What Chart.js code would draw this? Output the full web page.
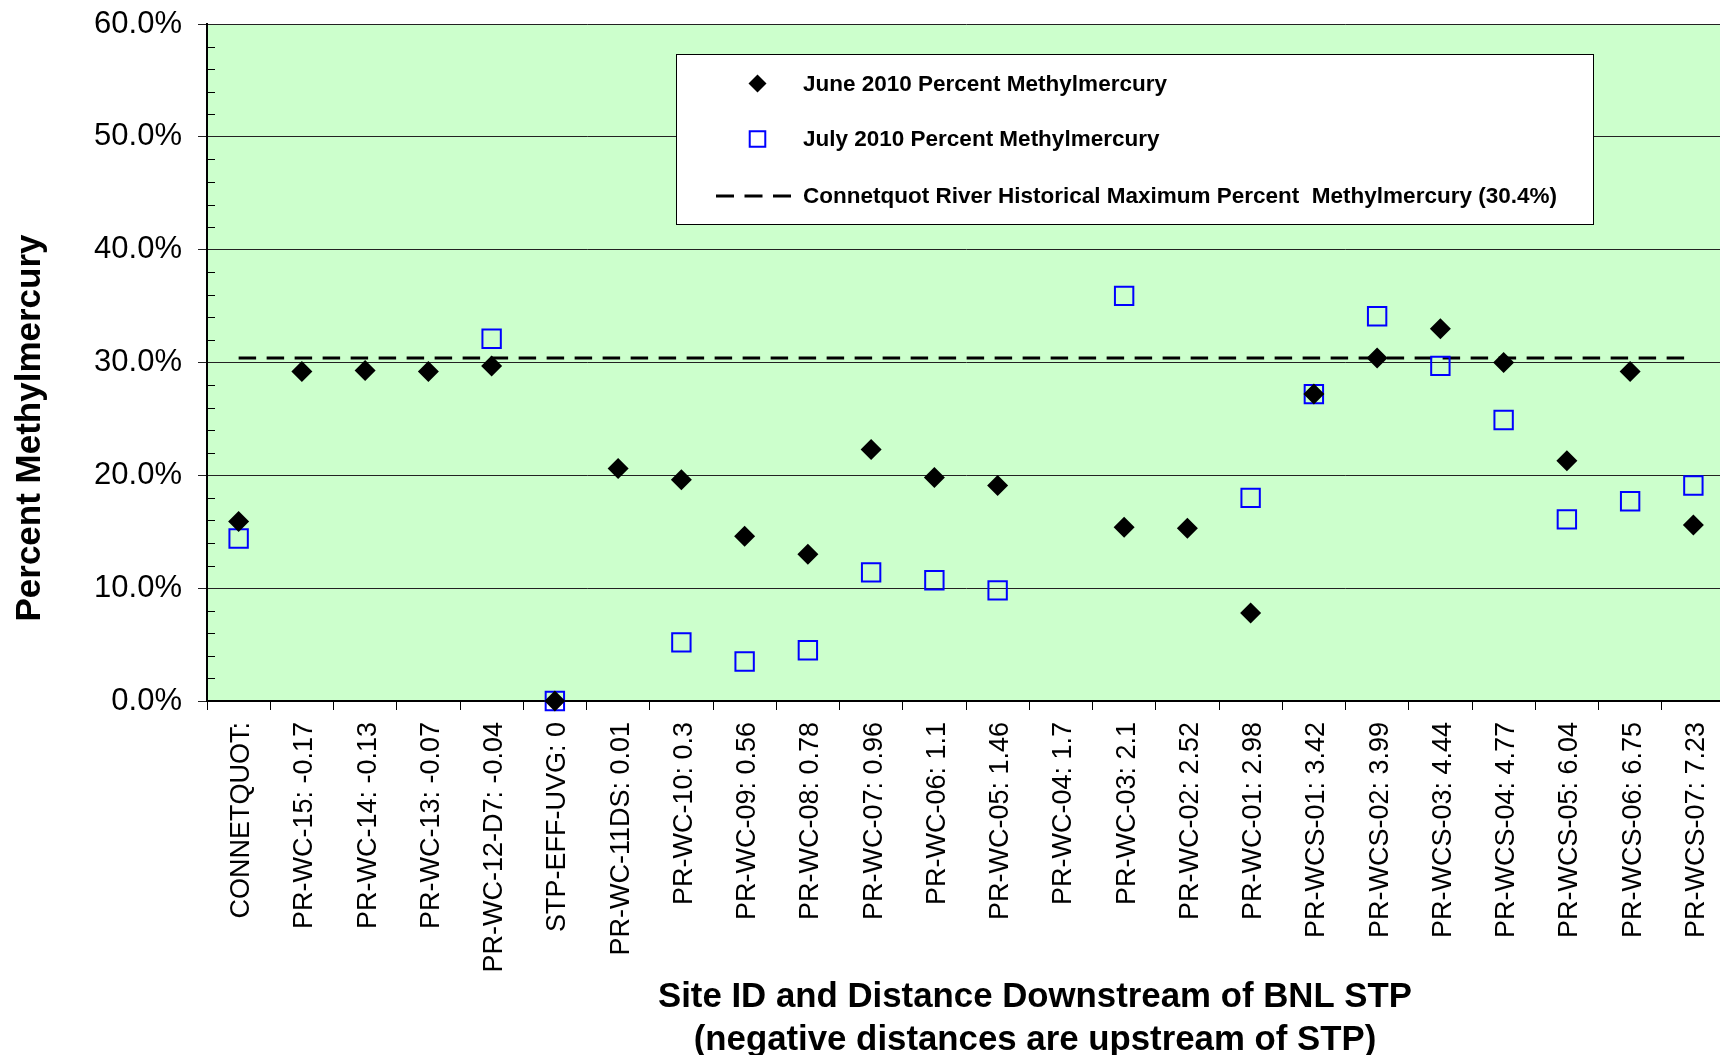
<!DOCTYPE html>
<html>
<head>
<meta charset="utf-8">
<script src="https://cdn.jsdelivr.net/npm/chart.js@4.4.1/dist/chart.umd.min.js"></script>
<style>
  html, body { margin: 0; padding: 0; background: #ffffff; overflow: hidden; width: 1720px; height: 1055px; }
  #wrap { position: relative; width: 1740px; height: 1055px; }
  canvas { display: block; }
</style>
</head>
<body>
<div id="wrap"><canvas id="c" width="1740" height="1055"></canvas></div>
<script>
// ---------------- DATA ----------------
const categories = [
  'CONNETQUOT:', 'PR-WC-15: -0.17', 'PR-WC-14: -0.13', 'PR-WC-13: -0.07',
  'PR-WC-12-D7: -0.04', 'STP-EFF-UVG: 0', 'PR-WC-11DS: 0.01', 'PR-WC-10: 0.3',
  'PR-WC-09: 0.56', 'PR-WC-08: 0.78', 'PR-WC-07: 0.96', 'PR-WC-06: 1.1',
  'PR-WC-05: 1.46', 'PR-WC-04: 1.7', 'PR-WC-03: 2.1', 'PR-WC-02: 2.52',
  'PR-WC-01: 2.98', 'PR-WCS-01: 3.42', 'PR-WCS-02: 3.99', 'PR-WCS-03: 4.44',
  'PR-WCS-04: 4.77', 'PR-WCS-05: 6.04', 'PR-WCS-06: 6.75', 'PR-WCS-07: 7.23'
];
const june2010 = [
  15.9, 29.2, 29.3, 29.2, 29.7, 0.0, 20.6, 19.6,
  14.6, 13.0, 22.3, 19.8, 19.1, null, 15.4, 15.3,
  7.8, 27.2, 30.4, 33.0, 30.0, 21.3, 29.2, 15.6
];
const july2010 = [
  14.4, null, null, null, 32.1, 0.0, null, 5.2,
  3.5, 4.5, 11.4, 10.7, 9.8, null, 35.9, null,
  18.0, 27.2, 34.1, 29.7, 24.9, 16.1, 17.7, 19.1
];
const historicalMax = 30.4;
const historicalLine = categories.map(() => historicalMax);
const seriesLabels = [
  'June 2010 Percent Methylmercury',
  'July 2010 Percent Methylmercury',
  'Connetquot River Historical Maximum Percent  Methylmercury (30.4%)'
];
const yAxisTitle = 'Percent Methylmercury';
const xAxisTitle = ['Site ID and Distance Downstream of BNL STP', '(negative distances are upstream of STP)'];
const yMin = 0, yMax = 60, yMajorStep = 10, yMinorStep = 2;

// ---------------- STYLE ----------------
const FONT = "'Liberation Sans', Arial, Helvetica, sans-serif";

const backgroundPlugin = {
  id: 'plotBackground',
  beforeDraw(chart) {
    const { ctx, chartArea: a } = chart;
    ctx.save();
    ctx.fillStyle = '#CCFFCC';
    ctx.fillRect(a.left, a.top, a.right - a.left, a.bottom - a.top);
    ctx.restore();
  }
};

function drawMarker(ctx, style, x, y, r, fill, stroke, bw) {
  if (window.Chart && Chart.helpers && Chart.helpers.drawPoint) {
    ctx.save();
    ctx.fillStyle = fill;
    ctx.strokeStyle = stroke;
    ctx.lineWidth = bw;
    Chart.helpers.drawPoint(ctx, { pointStyle: style, rotation: 0, radius: r, borderWidth: bw }, x, y);
    ctx.restore();
    return;
  }
  ctx.save();
  ctx.beginPath();
  if (style === 'rectRot') {
    ctx.moveTo(x - r, y); ctx.lineTo(x, y - r); ctx.lineTo(x + r, y); ctx.lineTo(x, y + r); ctx.closePath();
  } else {
    const s = Math.SQRT1_2 * r;
    ctx.rect(x - s, y - s, 2 * s, 2 * s);
  }
  ctx.fillStyle = fill; ctx.fill();
  if (bw > 0) { ctx.strokeStyle = stroke; ctx.lineWidth = bw; ctx.stroke(); }
  ctx.restore();
}

const decorPlugin = {
  id: 'decor',
  afterDraw(chart) {
    const { ctx, chartArea: a } = chart;
    const ys = chart.scales.y;
    ctx.save();
    // minor tick marks inside plot on y axis
    ctx.strokeStyle = '#000';
    ctx.lineWidth = 1;
    ys.ticks.forEach(t => {
      if (t.value % yMajorStep !== 0) {
        const py = Math.round(ys.getPixelForValue(t.value)) + 0.5;
        ctx.beginPath(); ctx.moveTo(a.left, py); ctx.lineTo(a.left + 8, py); ctx.stroke();
      }
    });

    // legend box
    const bx = 676.5, by = 54.5, bw = 917, bh = 170;
    ctx.fillStyle = '#ffffff';
    ctx.fillRect(bx, by, bw, bh);
    ctx.strokeStyle = '#000';
    ctx.lineWidth = 1;
    ctx.strokeRect(bx, by, bw, bh);

    const rows = [83.5, 139, 196];
    const markerX = 757.5, textX = 803;
    const ds = chart.data.datasets;
    drawMarker(ctx, ds[0].pointStyle, markerX, rows[0], 9, ds[0].pointBackgroundColor, ds[0].pointBorderColor, 0);
    drawMarker(ctx, ds[1].pointStyle, markerX, rows[1], 11, 'rgba(0,0,0,0)', ds[1].pointBorderColor, 2);
    ctx.save();
    ctx.strokeStyle = ds[2].borderColor;
    ctx.lineWidth = ds[2].borderWidth;
    ctx.setLineDash([18, 10.5]);
    ctx.beginPath(); ctx.moveTo(716, rows[2]); ctx.lineTo(791, rows[2]); ctx.stroke();
    ctx.restore();

    ctx.fillStyle = '#000';
    ctx.font = 'bold 22.5px ' + FONT;
    ctx.textBaseline = 'middle';
    ctx.textAlign = 'left';
    seriesLabels.forEach((s, i) => ctx.fillText(s, textX, rows[i] + 1));

    // y axis title
    ctx.save();
    ctx.translate(30, 428);
    ctx.rotate(-Math.PI / 2);
    ctx.font = 'bold 35px ' + FONT;
    ctx.textAlign = 'center';
    ctx.textBaseline = 'middle';
    ctx.fillText(yAxisTitle, 0, 0);
    ctx.restore();

    // x axis title
    ctx.font = 'bold 34.8px ' + FONT;
    ctx.textAlign = 'center';
    ctx.textBaseline = 'alphabetic';
    ctx.fillText(xAxisTitle[0], 1035, 1007);
    ctx.fillText(xAxisTitle[1], 1035, 1050);
    ctx.restore();
  }
};

new Chart(document.getElementById('c').getContext('2d'), {
  type: 'line',
  data: {
    labels: categories,
    datasets: [
      {
        label: seriesLabels[0], data: june2010, showLine: false,
        pointStyle: 'rectRot', pointRadius: 10.5, pointHoverRadius: 10.5,
        pointBackgroundColor: '#000000', pointBorderColor: '#000000', pointBorderWidth: 0,
        clip: false
      },
      {
        label: seriesLabels[1], data: july2010, showLine: false,
        pointStyle: 'rect', pointRadius: 13, pointHoverRadius: 13,
        pointBackgroundColor: 'rgba(0,0,0,0)', pointBorderColor: '#0000FF', pointBorderWidth: 2,
        clip: false
      },
      {
        label: seriesLabels[2], data: historicalLine,
        borderColor: '#000000', borderWidth: 3, borderDash: [17.5, 10.5],
        pointRadius: 0, pointHoverRadius: 0, fill: false, tension: 0
      }
    ]
  },
  options: {
    responsive: false,
    animation: false,
    events: [],
    layout: { padding: { top: 24, right: 5, left: 0, bottom: 0 } },
    plugins: { legend: { display: false }, tooltip: { enabled: false } },
    scales: {
      x: {
        type: 'category',
        offset: true,
        grid: { offset: true, drawOnChartArea: false, drawTicks: true, tickLength: 9, color: '#000', lineWidth: 1 },
        border: { display: true, color: '#000', width: 2 },
        ticks: {
          autoSkip: false, maxRotation: 90, minRotation: 90, padding: 12, labelOffset: 3,
          color: '#000', font: { family: FONT, size: 27 }
        },
        afterFit(s) { s.height = 354; s.paddingLeft = 0; s.paddingRight = 0; }
      },
      y: {
        min: yMin, max: yMax,
        ticks: {
          autoSkip: false, stepSize: yMinorStep, padding: 16, color: '#000',
          font: { family: FONT, size: 31 },
          callback: v => (v % yMajorStep === 0 ? v.toFixed(1) + '%' : '')
        },
        grid: {
          color: c => (c.tick && c.tick.value % yMajorStep === 0 ? '#222222' : 'rgba(0,0,0,0)'),
          lineWidth: 1, drawTicks: true, tickLength: 9
        },
        border: { display: true, color: '#000', width: 2 },
        afterFit(s) { s.width = 207; s.paddingTop = 0; s.paddingBottom = 0; }
      }
    }
  },
  plugins: [backgroundPlugin, decorPlugin]
});
</script>
</body>
</html>
